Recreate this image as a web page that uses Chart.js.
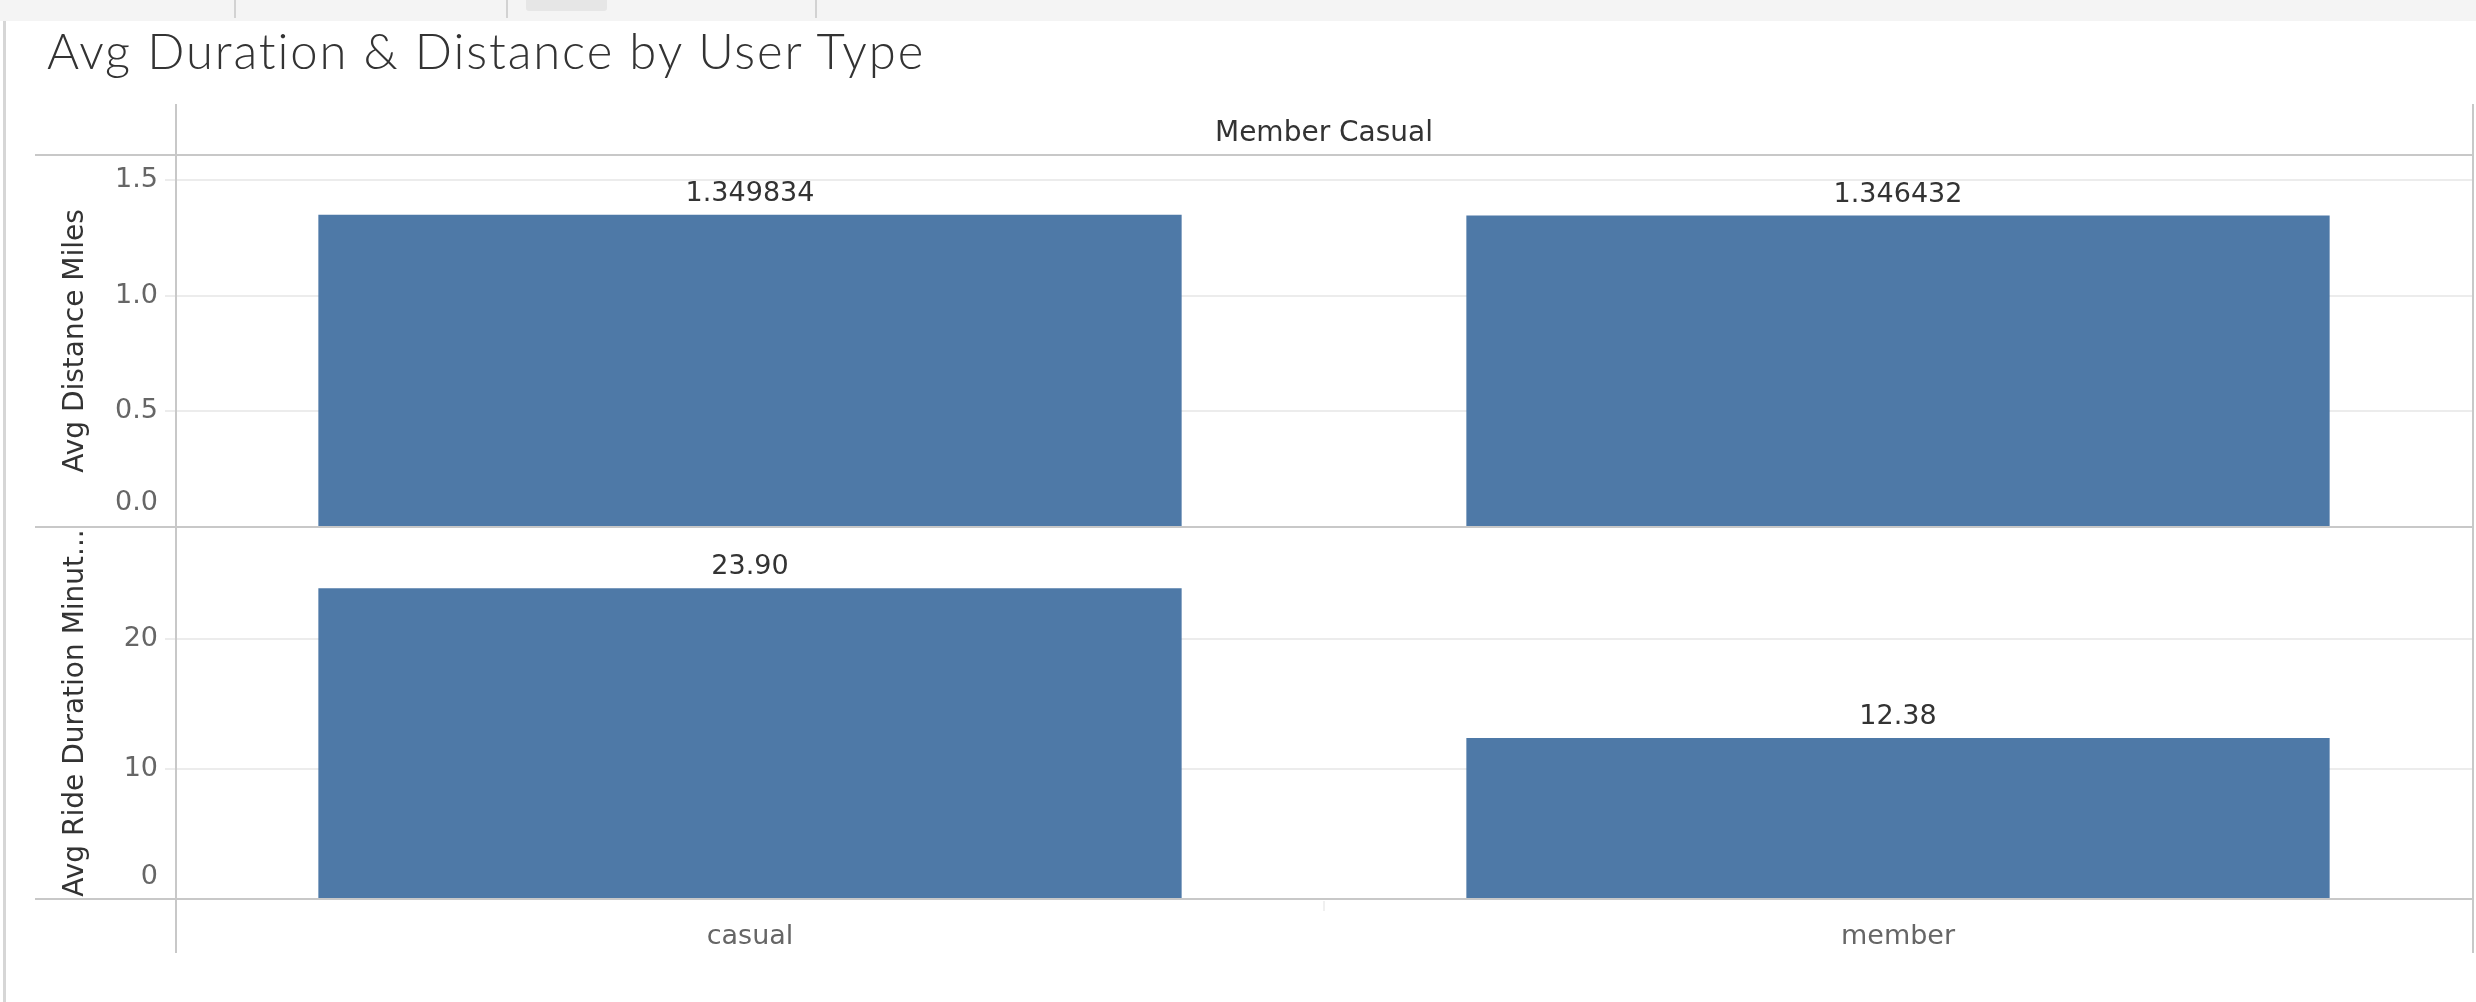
<!DOCTYPE html>
<html>
<head>
<meta charset="utf-8">
<script src="https://cdn.jsdelivr.net/npm/chart.js@4.4.1/dist/chart.umd.min.js"></script>
<style>
  html, body { margin: 0; padding: 0; background: #ffffff; width: 2476px; height: 1002px; overflow: hidden; }
  #wrap { position: relative; width: 2476px; height: 1002px; }
  #chart { position: absolute; left: 0; top: 0; }
  .strip { position: absolute; left: 0; top: 0; width: 2476px; height: 21px; background: #f4f4f4; }
  .tabline { position: absolute; top: 0; width: 2px; height: 18px; background: #d2d2d2; }
  .tab { position: absolute; top: 0; left: 526px; width: 81px; height: 11px; background: #e6e6e6; border-radius: 0 0 3px 3px; }
  .outer { position: absolute; left: 3px; top: 21px; width: 3px; height: 981px; background: #d6d6d6; }
  #title { position: absolute; left: 47px; top: 26px; font-family: Lato, "Open Sans", sans-serif; font-weight: 300;
           font-size: 49px; line-height: 49px; letter-spacing: 1.9px; font-variant-ligatures: none;
           color: #333333; white-space: nowrap; }
  #header { position: absolute; left: 176px; width: 2296px; top: 118px; text-align: center;
            font-family: "DejaVu Sans", sans-serif; font-size: 28px; line-height: 28px; color: #333333; white-space: nowrap; }
</style>
</head>
<body>
<div id="wrap">
  <canvas id="chart" width="2476" height="1002"></canvas>
  <div class="strip"></div>
  <div class="tabline" style="left:234px"></div>
  <div class="tabline" style="left:506px"></div>
  <div class="tabline" style="left:815px"></div>
  <div class="tab"></div>
  <div class="outer"></div>
  <div id="title">Avg Duration &amp; Distance by User Type</div>
  <div id="header">Member Casual</div>
</div>
<script>
// ---- data ----
const categories = ['casual', 'member'];
const avgDistanceMiles = [1.349834, 1.346432];
const avgRideDurationMinutes = [23.90, 12.38];
const distanceValueLabels = ['1.349834', '1.346432'];
const durationValueLabels = ['23.90', '12.38'];
const distanceTicks = [0, 0.5, 1.0, 1.5];
const distanceTickLabels = ['0.0', '0.5', '1.0', '1.5'];
const durationTicks = [0, 10, 20];
const durationTickLabels = ['0', '10', '20'];

const BAR_COLOR = '#4e79a7';
const FONT = '"DejaVu Sans", sans-serif';

// zeroLift: how far the bottom tick label is lifted above the pane border (Tableau style)
function yAxis(min, max, ticks, labels, title, zeroLift) {
  return {
    type: 'linear',
    position: 'left',
    stack: 'panes',
    stackWeight: 1,
    min: min,
    max: max,
    afterBuildTicks: (s) => { s.ticks = ticks.map(v => ({ value: v })); },
    afterFit: (s) => { s.width = 176; },
    grid: { color: '#ececec', lineWidth: 2, tickLength: 11, drawTicks: true },
    border: { display: false },
    ticks: {
      autoSkip: false,
      padding: 7,
      color: '#666666',
      font: (c) => ({
        family: FONT, size: 27,
        lineHeight: (c.tick && c.tick.value === 0) ? (zeroLift * 2) + 'px' : 1.2
      }),
      callback: (v) => {
        const i = ticks.indexOf(v);
        if (i < 0) return '';
        return v === 0 ? [labels[i], ''] : labels[i];
      }
    },
    title: {
      display: true,
      text: title,
      color: '#333333',
      font: { family: FONT, size: 28 },
      padding: { top: 59, bottom: 0 }
    }
  };
}

const valueLabelPlugin = {
  id: 'valueLabels',
  afterDatasetsDraw(chart) {
    const ctx = chart.ctx;
    const sets = [distanceValueLabels, durationValueLabels];
    ctx.save();
    ctx.font = '27px ' + FONT;
    ctx.fillStyle = '#333333';
    ctx.textAlign = 'center';
    ctx.textBaseline = 'alphabetic';
    chart.data.datasets.forEach((ds, i) => {
      chart.getDatasetMeta(i).data.forEach((el, j) => {
        ctx.fillText(sets[i][j], el.x, el.y - 14);
      });
    });
    ctx.restore();
  }
};

const framePlugin = {
  id: 'frame',
  afterDraw(chart) {
    const { ctx, chartArea: a, scales } = chart;
    const mid = Math.min(scales.yDist.bottom, scales.yDur.bottom);
    ctx.save();
    ctx.strokeStyle = '#c8c8c8';
    ctx.lineWidth = 2;
    const h = (y) => { ctx.beginPath(); ctx.moveTo(35, y); ctx.lineTo(a.right + 2, y); ctx.stroke(); };
    h(a.top); h(mid); h(a.bottom);
    const v = (x) => { ctx.beginPath(); ctx.moveTo(x, 104); ctx.lineTo(x, 953); ctx.stroke(); };
    v(a.left); v(a.right + 1);
    // faint divider tick between categories under the axis
    const xs = scales.x;
    const divX = (xs.getPixelForValue(0) + xs.getPixelForValue(1)) / 2;
    ctx.strokeStyle = '#f0f0f0';
    ctx.beginPath(); ctx.moveTo(divX, a.bottom + 2); ctx.lineTo(divX, a.bottom + 12); ctx.stroke();
    ctx.restore();
  }
};

new Chart(document.getElementById('chart'), {
  type: 'bar',
  data: {
    labels: categories,
    datasets: [
      { label: 'Avg Distance Miles', data: avgDistanceMiles, yAxisID: 'yDist', backgroundColor: BAR_COLOR,
        grouped: false, barPercentage: 0.752, categoryPercentage: 1.0 },
      { label: 'Avg Ride Duration Minutes', data: avgRideDurationMinutes, yAxisID: 'yDur', backgroundColor: BAR_COLOR,
        grouped: false, barPercentage: 0.752, categoryPercentage: 1.0 }
    ]
  },
  options: {
    responsive: false,
    devicePixelRatio: 1,
    animation: false,
    layout: { padding: { left: 0, right: 4, top: 155, bottom: 0 } },
    plugins: { legend: { display: false }, tooltip: { enabled: false }, title: { display: false } },
    scales: {
      x: {
        type: 'category',
        offset: true,
        afterFit: (s) => { s.height = 103; },
        grid: { display: false, drawTicks: false },
        border: { display: false },
        ticks: { padding: 22, color: '#666666', font: { family: FONT, size: 27 } }
      },
      yDur: yAxis(0, 28.6, durationTicks, durationTickLabels, 'Avg Ride Duration Minut...', 22),
      yDist: yAxis(0, 1.608, distanceTicks, distanceTickLabels, 'Avg Distance Miles', 24)
    }
  },
  plugins: [valueLabelPlugin, framePlugin]
});
</script>
</body>
</html>
